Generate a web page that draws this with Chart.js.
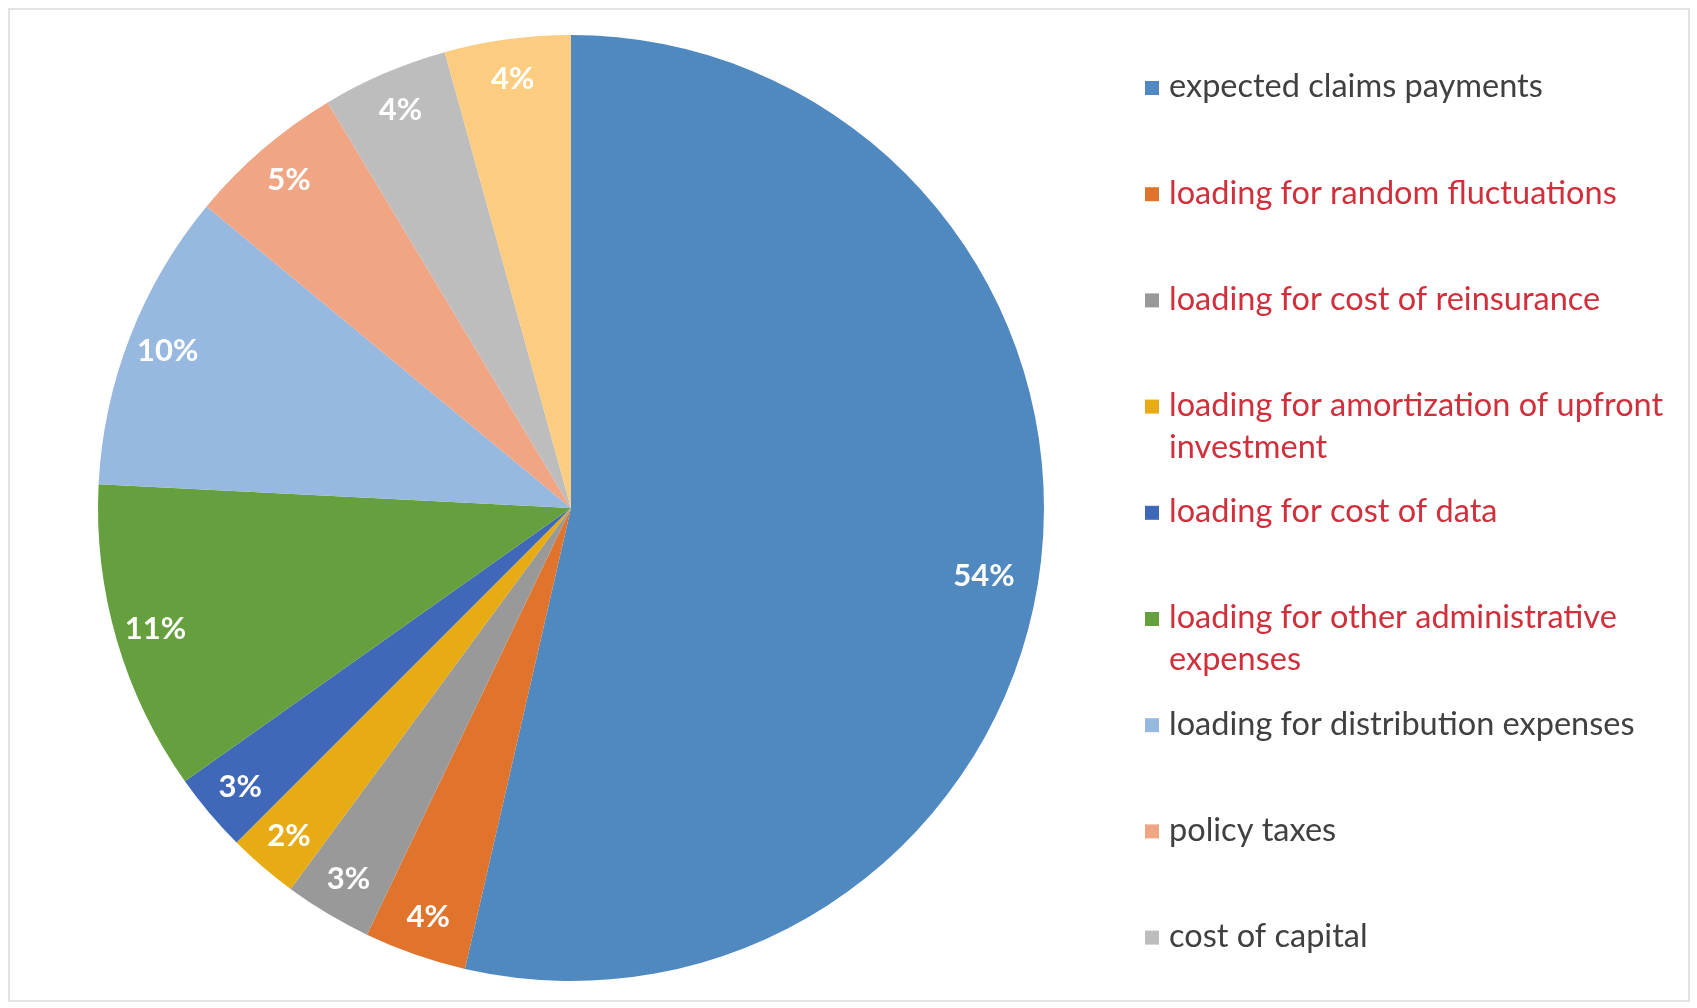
<!DOCTYPE html>
<html>
<head>
<meta charset="utf-8">
<script src="https://cdn.jsdelivr.net/npm/chart.js@4"></script>
<style>
html, body { margin: 0; padding: 0; background: #fff; }
#wrap { position: relative; width: 1697px; height: 1008px; }
#frame { position: absolute; left: 8px; top: 8px; width: 1682px; height: 994px; border: 2px solid #e3e3e3; box-sizing: border-box; }
canvas { position: absolute; left: 0; top: 0; }
</style>
</head>
<body>
<div id="wrap">
  <div id="frame"></div>
  <canvas id="mypiechart" width="1697" height="1008"></canvas>
</div>
<script>
// slices, clockwise from 12 o'clock
var categories = [
    'expected claims payments',
    'loading for random fluctuations',
    'loading for cost of reinsurance',
    ['loading for amortization of upfront', 'investment'],
    'loading for cost of data',
    ['loading for other administrative', 'expenses'],
    'loading for distribution expenses',
    'policy taxes',
    'cost of capital',
    ''   // last slice has no legend entry in the original
];
var shares = [53.6, 3.5, 3.0, 2.4, 2.7, 10.6, 10.2, 5.4, 4.3, 4.3];
var sliceColors = ['#4f89c0', '#e0742c', '#999999', '#e7ab14', '#4068b8', '#66a03e',
                   '#97b8df', '#f0a585', '#bdbdbd', '#fccd80'];
var legendTextColors = ['#404040', '#d0303c', '#d0303c', '#d0303c', '#d0303c', '#d0303c',
                        '#404040', '#404040', '#404040', '#404040'];

var pctLabels = {
    id: 'pctLabels',
    afterDatasetsDraw: function(chart) {
        var ctx = chart.ctx;
        var meta = chart.getDatasetMeta(0);
        ctx.save();
        ctx.fillStyle = '#ffffff';
        ctx.font = 'bold 31px Lato';
        ctx.textAlign = 'center';
        ctx.textBaseline = 'middle';
        meta.data.forEach(function(arc, i) {
            var p = arc.getProps(['x', 'y', 'startAngle', 'endAngle', 'outerRadius']);
            var mid = (p.startAngle + p.endAngle) / 2;
            var r = p.outerRadius * 0.915;
            // big slice: Excel pulls its label in a bit and lower
            if (p.endAngle - p.startAngle > Math.PI) {
                mid += 0.05;
                r = p.outerRadius * 0.885;
            }
            ctx.fillText(Math.round(shares[i]) + '%', p.x + Math.cos(mid) * r, p.y + Math.sin(mid) * r);
        });
        ctx.restore();
    }
};

// Excel-style legend on the right, one row per entry
var sideLegend = {
    id: 'sideLegend',
    afterDraw: function(chart) {
        var ctx = chart.ctx;
        var top = 87, step = 106.2, lineGap = 42;
        ctx.save();
        ctx.font = '32.5px Lato';
        ctx.textBaseline = 'middle';
        categories.forEach(function(lab, i) {
            if (!lab) return;
            var y = top + i * step;
            ctx.fillStyle = sliceColors[i];
            ctx.fillRect(1145, y - 6, 14, 14);
            ctx.fillStyle = legendTextColors[i];
            var lines = Array.isArray(lab) ? lab : [lab];
            lines.forEach(function(t, k) {
                ctx.fillText(t, 1169, y + k * lineGap);
            });
        });
        ctx.restore();
    }
};

var ctx = document.getElementById('mypiechart').getContext('2d');
var mypieChart = new Chart(ctx, {
    type: 'pie',
    data: {
        labels: categories,
        datasets: [{
            data: shares,
            backgroundColor: sliceColors,
            borderWidth: 0
        }]
    },
    options: {
        responsive: false,
        animation: false,
        layout: {
            padding: { top: 35, bottom: 27, left: 98, right: 653 }
        },
        plugins: {
            legend: { display: false },
            tooltip: { enabled: false }
        }
    },
    plugins: [pctLabels, sideLegend]
});
</script>
</body>
</html>
